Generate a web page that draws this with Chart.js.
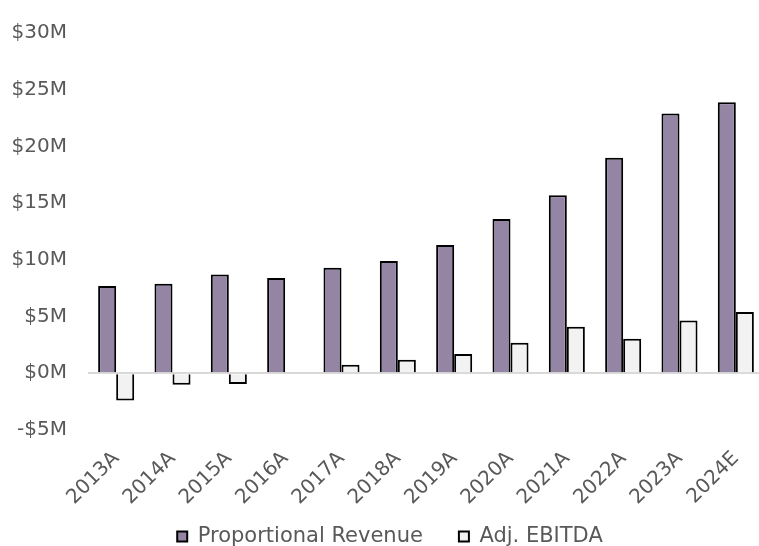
<!DOCTYPE html>
<html>
<head>
<meta charset="utf-8">
<script src="https://cdn.jsdelivr.net/npm/chart.js@4"></script>
<style>
  html, body { margin: 0; padding: 0; background: #ffffff; overflow: hidden; }
  #wrap { position: absolute; left: 0; top: 0; }
</style>
</head>
<body>
<div id="wrap"><canvas id="chart" width="772" height="557"></canvas></div>
<script>
// Fiscal years (A = actual, E = estimate)
const years = ['2013A', '2014A', '2015A', '2016A', '2017A', '2018A',
               '2019A', '2020A', '2021A', '2022A', '2023A', '2024E'];

// Values in $ millions
const proportionalRevenue = [7.7, 7.9, 8.7, 8.4, 9.3, 9.9, 11.3, 13.6, 15.7, 19.0, 22.9, 23.9];
const adjEbitda = [-2.4, -1.0, -0.95, 0, 0.75, 1.2, 1.7, 2.7, 4.1, 3.05, 4.65, 5.4];

// Y-axis ticks in $ millions
const yTicks = [-5, 0, 5, 10, 15, 20, 25, 30];

const labelColor = '#595959';
const fontFamily = '"DejaVu Sans", Verdana, sans-serif';

// Nudge the legend block right, and let the slanted year labels
// run past the bottom of the x-axis box instead of being clipped
const layoutTweaks = {
  id: 'layoutTweaks',
  afterLayout(chart) {
    const lg = chart.legend;
    if (lg) { lg.left += 8; lg.right += 8; }
    const x = chart.scales.x;
    if (x) { x.bottom = chart.height; }
  }
};

new Chart(document.getElementById('chart'), {
  type: 'bar',
  data: {
    labels: years,
    datasets: [
      {
        label: 'Proportional Revenue',
        data: proportionalRevenue,
        backgroundColor: '#9485a5',
        borderColor: '#000000',
        borderWidth: 2
      },
      {
        label: 'Adj. EBITDA',
        data: adjEbitda,
        backgroundColor: '#f2f2f2',
        borderColor: '#000000',
        borderWidth: 2
      }
    ]
  },
  plugins: [layoutTweaks],
  options: {
    responsive: false,
    animation: false,
    events: [],
    datasets: {
      bar: { categoryPercentage: 0.64, barPercentage: 1.0 }
    },
    layout: { padding: { top: 18, left: 0, right: 8, bottom: 0 } },
    plugins: {
      tooltip: { enabled: false },
      legend: {
        position: 'bottom',
        labels: {
          boxWidth: 10,
          boxHeight: 10,
          padding: 36,
          color: labelColor,
          font: { family: fontFamily, size: 21 }
        }
      }
    },
    scales: {
      x: {
        grid: { display: false, drawTicks: false },
        border: { display: false },
        afterFit: (scale) => { scale.height = 60; },
        ticks: {
          autoSkip: false,
          maxRotation: 45,
          minRotation: 45,
          padding: 17,
          color: labelColor,
          font: { family: fontFamily, size: 20 }
        }
      },
      y: {
        min: yTicks[0],
        max: yTicks[yTicks.length - 1],
        afterBuildTicks: (scale) => { scale.ticks = yTicks.map(v => ({ value: v })); },
        afterFit: (scale) => { scale.width = 88; },
        border: { display: false },
        grid: {
          drawTicks: false,
          lineWidth: 2,
          color: (ctx) => (ctx.tick && ctx.tick.value === 0 ? '#d9d9d9' : 'rgba(0,0,0,0)')
        },
        ticks: {
          padding: 21,
          color: labelColor,
          font: { family: fontFamily, size: 20 },
          callback: (v) => (v < 0 ? '-$' + Math.abs(v) + 'M' : '$' + v + 'M')
        }
      }
    }
  }
});
</script>
</body>
</html>
